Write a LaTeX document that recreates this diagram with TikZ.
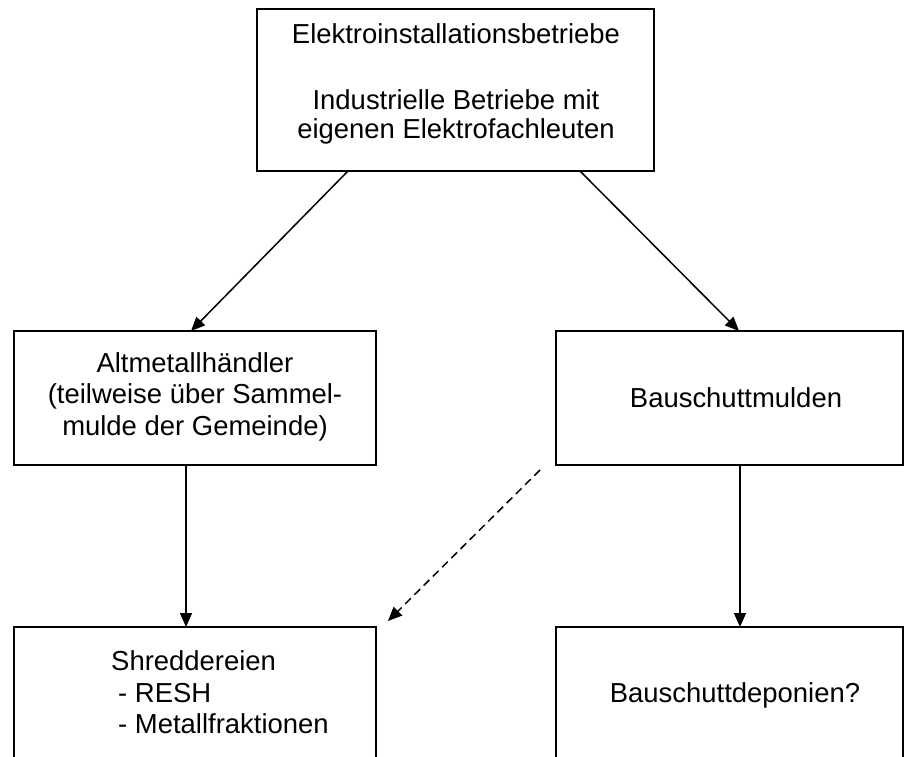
\documentclass[tikz,border=0pt]{standalone}
\usepackage{fontspec}
\setmainfont{Liberation Sans}
\usetikzlibrary{arrows.meta,calc}
\begin{document}
\begin{tikzpicture}[x=1pt,y=-1pt,
  box/.style={draw,line width=1.8pt,inner sep=0pt,outer sep=0pt,anchor=north west},
  lbl/.style={inner sep=0pt,font=\fontsize{27.45}{31.5}\selectfont,anchor=base},
  conn/.style={line width=1.5pt,-{Triangle[length=14pt,width=12pt]}},
  dconn/.style={conn,dash pattern=on 8pt off 5pt},
]
\useasboundingbox (0,0) rectangle (906,757);
\clip (0,0) rectangle (906,757);
\fill[white] (0,0) rectangle (906,757);
% boxes
\node[box,minimum width=397pt,minimum height=162pt] (top) at (257,9) {};
\node[box,minimum width=362pt,minimum height=134pt] (left) at (14,331) {};
\node[box,minimum width=347pt,minimum height=134pt] (right) at (556,331) {};
\node[box,minimum width=362pt,minimum height=200pt] (bl) at (14,627) {};
\node[box,minimum width=347pt,minimum height=200pt] (br) at (556,627) {};
% connectors
\draw[conn] ($(top.south west)+(91,0)$) -- ($(left.north west)+(177,0)$);
\draw[conn] ($(top.south west)+(323,0)$) -- ($(right.north west)+(183,0)$);
\draw[conn] ($(left.south west)+(172,0)$) -- ($(bl.north west)+(172,0)$);
\draw[conn] ($(right.south west)+(184,0)$) -- ($(br.north west)+(184,0)$);
\draw[dconn] ($(right.south west)+(-16,5)$) -- ($(bl.north east)+(12,-6)$);
% labels
\node[lbl] (t1) at (456,44) {Elektroinstallationsbetriebe};
\node[lbl] (t2) at (456,110) {Industrielle Betriebe mit};
\node[lbl] (t3) at (456,139) {eigenen Elektrofachleuten};
\node[lbl] (l1) at (195,372) {Altmetallhändler};
\node[lbl] (l2) at (195,403.5) {(teilweise über Sammel-};
\node[lbl] (l3) at (195,435) {mulde der Gemeinde)};
\node[lbl] (r1) at (736,407) {Bauschuttmulden};
\node[lbl,anchor=base west] (s1) at (111,670) {Shreddereien};
\node[lbl,anchor=base west] (s2) at (118,702) {- RESH};
\node[lbl,anchor=base west] (s3) at (118,733) {- Metallfraktionen};
\node[lbl] (d1) at (735,702) {Bauschuttdeponien?};
\end{tikzpicture}
\end{document}
